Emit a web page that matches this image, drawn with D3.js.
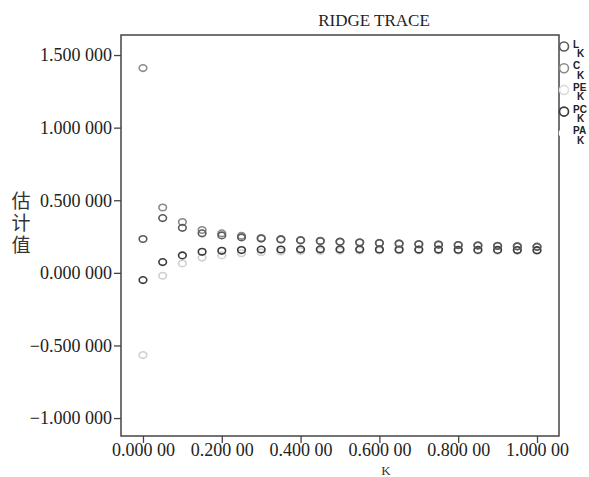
<!DOCTYPE html>
<html>
<head>
<meta charset="utf-8">
<script src="https://cdn.jsdelivr.net/npm/d3@7"></script>
<style>
  body { margin: 0; background: #fff; }
  svg { display: block; }
</style>
</head>
<body>
<div id="chart"></div>
<script>
// ridge parameter k
const kValues = [0, 0.05, 0.1, 0.15, 0.2, 0.25, 0.3, 0.35, 0.4, 0.45, 0.5,
                 0.55, 0.6, 0.65, 0.7, 0.75, 0.8, 0.85, 0.9, 0.95, 1.0];

// estimates per series
const cValues  = [1.41, 0.45, 0.35, 0.295, 0.272, 0.255, 0.240, 0.232, 0.225, 0.220, 0.215,
                  0.210, 0.206, 0.202, 0.198, 0.195, 0.192, 0.189, 0.186, 0.183, 0.180];
const lValues  = [0.233, 0.377, 0.31, 0.272, 0.258, 0.244, 0.236, 0.230, 0.224, 0.219, 0.214,
                  0.209, 0.205, 0.201, 0.197, 0.194, 0.191, 0.188, 0.185, 0.182, 0.179];
const pcValues = [-0.05, 0.074, 0.12, 0.145, 0.152, 0.157, 0.160, 0.161, 0.162, 0.162, 0.162,
                  0.162, 0.161, 0.161, 0.160, 0.160, 0.159, 0.158, 0.158, 0.157, 0.156];
const peValues = [-0.566, -0.02, 0.065, 0.105, 0.12, 0.135, 0.142, 0.147, 0.150, 0.152, 0.153,
                  0.154, 0.154, 0.154, 0.154, 0.154, 0.153, 0.153, 0.152, 0.152, 0.151];

const legendNames = ["L", "C", "PE", "PC", "PA"];
const yTicks = [-1.0, -0.5, 0, 0.5, 1.0, 1.5];
const xTicks = [0, 0.2, 0.4, 0.6, 0.8, 1.0];

const width = 589, height = 477;
const plot = {left: 121, right: 559, top: 35, bottom: 436};

const svg = d3.select("#chart")
  .append("svg")
  .attr("width", width)
  .attr("height", height);

const x = d3.scaleLinear()
  .domain([-0.0558, 1.0558])
  .range([plot.left, plot.right]);

const y = d3.scaleLinear()
  .domain([-1.1235, 1.638])
  .range([plot.bottom, plot.top]);

const serif = "'Liberation Serif', 'Times New Roman', serif";

// number format like "1.500 000"
function fmtY(v) {
  const s = d3.format(".6f")(v);
  return s.slice(0, s.length - 3) + " " + s.slice(s.length - 3);
}
function fmtX(v) {
  const s = d3.format(".5f")(v);
  return s.slice(0, s.length - 2) + " " + s.slice(s.length - 2);
}

// axes
const yAxis = svg.append("g")
  .attr("transform", `translate(${plot.left},0)`)
  .call(d3.axisLeft(y).tickValues(yTicks).tickSize(7).tickPadding(2).tickFormat(fmtY));

const xAxis = svg.append("g")
  .attr("transform", `translate(0,${plot.bottom})`)
  .call(d3.axisBottom(x).tickValues(xTicks).tickSize(7).tickPadding(0.5).tickFormat(fmtX));

[yAxis, xAxis].forEach(g => {
  g.select(".domain").remove();
  g.selectAll(".tick line").attr("stroke", "#444").attr("stroke-width", 1.3);
  g.selectAll(".tick text")
    .attr("fill", "#222")
    .style("font-family", serif)
    .style("font-size", "18px");
});

// frame
svg.append("rect")
  .attr("x", plot.left)
  .attr("y", plot.top)
  .attr("width", plot.right - plot.left)
  .attr("height", plot.bottom - plot.top)
  .attr("fill", "none")
  .attr("stroke", "#444")
  .attr("stroke-width", 1.5);

// title and axis labels
svg.append("text")
  .attr("x", 374)
  .attr("y", 26)
  .attr("text-anchor", "middle")
  .attr("fill", "#222")
  .style("font-family", serif)
  .style("font-size", "17px")
  .text("RIDGE TRACE");

svg.append("text")
  .attr("x", 386)
  .attr("y", 474.5)
  .attr("text-anchor", "middle")
  .attr("fill", "#333")
  .style("font-family", serif)
  .style("font-size", "13px")
  .text("K");

// vertical y label, one text element
svg.append("text")
  .attr("x", 21)
  .attr("y", 191)
  .attr("fill", "#333")
  .style("writing-mode", "vertical-rl")
  .style("letter-spacing", "3px")
  .style("font-family", "'Noto Sans CJK SC', sans-serif")
  .style("font-size", "19px")
  .text("估计值");

// series, drawn light to dark
const series = [
  {name: "PE", values: peValues, color: "#cfcfcf"},
  {name: "C",  values: cValues,  color: "#8a8a8a"},
  {name: "PC", values: pcValues, color: "#3a3a3a"},
  {name: "L",  values: lValues,  color: "#5a5a5a"}
];

series.forEach(s => {
  svg.append("g")
    .selectAll("ellipse")
    .data(kValues.map((k, i) => ({k: k, v: s.values[i]})))
    .enter()
    .append("ellipse")
    .attr("cx", d => x(d.k))
    .attr("cy", d => y(d.v))
    .attr("rx", 3.8)
    .attr("ry", 3.3)
    .attr("fill", "none")
    .attr("stroke", s.color)
    .attr("stroke-width", 1.6);
});

// legend on the right edge
const legendColors = {L: "#5a5a5a", C: "#8a8a8a", PE: "#dcdcdc", PC: "#3a3a3a", PA: "#ffffff"};

const legend = svg.selectAll(".legend-item")
  .data(legendNames)
  .enter()
  .append("g")
  .attr("class", "legend-item")
  .attr("transform", (d, i) => `translate(0,${46.5 + i * 21.7})`);

legend.append("circle")
  .attr("cx", 564)
  .attr("cy", 0)
  .attr("r", 4.5)
  .attr("fill", "none")
  .attr("stroke", d => legendColors[d])
  .attr("stroke-width", 1.6);

legend.append("text")
  .attr("x", 573)
  .attr("y", 1)
  .attr("fill", "#222")
  .style("font-family", "'Liberation Sans', Arial, sans-serif")
  .style("font-weight", "bold")
  .style("font-size", "10px")
  .text(d => d);

legend.append("text")
  .attr("x", 577)
  .attr("y", 10.5)
  .attr("fill", "#222")
  .style("font-family", "'Liberation Sans', Arial, sans-serif")
  .style("font-weight", "bold")
  .style("font-size", "10px")
  .text("K");
</script>
</body>
</html>
